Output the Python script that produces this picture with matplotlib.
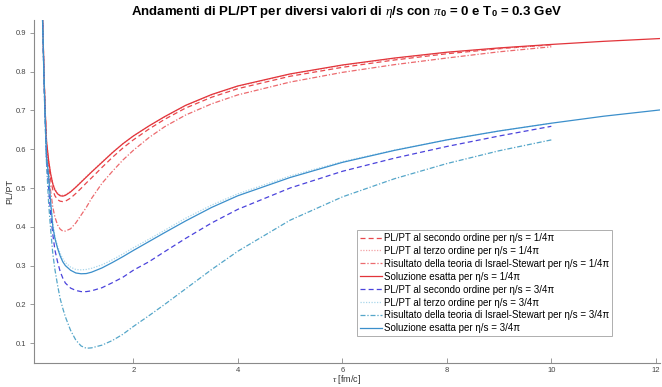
import matplotlib
matplotlib.use("Agg")
import matplotlib.pyplot as plt

plt.rcParams['font.family'] = ['Liberation Sans', 'DejaVu Sans']
plt.rcParams['mathtext.fontset'] = 'custom'
plt.rcParams['mathtext.it'] = 'Liberation Serif:italic'
plt.rcParams['mathtext.rm'] = 'Liberation Sans'
plt.rcParams['mathtext.bf'] = 'Liberation Sans:bold'

# proper time grid [fm/c]
tau_approx = [0.25, 0.27, 0.29, 0.31, 0.34, 0.38, 0.42, 0.46, 0.5, 0.55, 0.6, 0.65,
              0.7, 0.8, 0.9, 1.0, 1.1, 1.2, 1.4, 1.6, 1.8, 2.0, 2.3, 2.6, 3.0,
              3.5, 4.0, 5.0, 6.0, 7.0, 8.0, 9.0, 10.0]
tau_exact = tau_approx + [11.0, 12.2]

# eta/s = 1/4pi
pl_pt_2nd_a = [1.0, 0.91, 0.80, 0.71, 0.61, 0.56, 0.52, 0.495, 0.48, 0.47, 0.466, 0.465,
               0.466, 0.474, 0.486, 0.499, 0.513, 0.526, 0.553, 0.579, 0.603, 0.624, 0.652, 0.677, 0.706,
               0.734, 0.756, 0.788, 0.811, 0.83, 0.846, 0.859, 0.869]
pl_pt_3rd_a = [1.0, 0.91, 0.80, 0.71, 0.62, 0.572, 0.537, 0.512, 0.497, 0.487, 0.482, 0.481,
               0.483, 0.491, 0.503, 0.516, 0.529, 0.542, 0.567, 0.592, 0.614, 0.634, 0.66, 0.683, 0.712,
               0.74, 0.762, 0.793, 0.816, 0.834, 0.849, 0.86, 0.869]
pl_pt_is_a = [1.0, 0.91, 0.80, 0.71, 0.60, 0.54, 0.49, 0.45, 0.425, 0.405, 0.394, 0.389,
              0.389, 0.395, 0.41, 0.43, 0.45, 0.473, 0.512, 0.543, 0.572, 0.597, 0.63, 0.658, 0.688,
              0.717, 0.74, 0.773, 0.798, 0.818, 0.835, 0.851, 0.864]
pl_pt_exact_a = [1.0, 0.91, 0.80, 0.71, 0.62, 0.57, 0.535, 0.51, 0.495, 0.485, 0.48, 0.479,
                 0.481, 0.49, 0.502, 0.515, 0.528, 0.541, 0.566, 0.591, 0.614, 0.634, 0.66, 0.684, 0.713,
                 0.741, 0.763, 0.794, 0.817, 0.835, 0.85, 0.861, 0.870, 0.878, 0.886]

# eta/s = 3/4pi
pl_pt_2nd_b = [1.0, 0.90, 0.78, 0.69, 0.57, 0.50, 0.43, 0.38, 0.34, 0.31, 0.285, 0.268,
               0.255, 0.242, 0.236, 0.233, 0.233, 0.235, 0.243, 0.256, 0.27, 0.288, 0.31, 0.336, 0.37,
               0.41, 0.445, 0.50, 0.543, 0.577, 0.607, 0.634, 0.659]
pl_pt_3rd_b = [1.0, 0.90, 0.79, 0.70, 0.59, 0.53, 0.465, 0.41, 0.375, 0.35, 0.332, 0.318,
               0.308, 0.296, 0.29, 0.289, 0.29, 0.293, 0.302, 0.315, 0.33, 0.346, 0.368, 0.391, 0.422,
               0.456, 0.485, 0.531, 0.568, 0.598, 0.624, 0.647, 0.667]
pl_pt_is_b = [1.0, 0.90, 0.78, 0.68, 0.56, 0.46, 0.39, 0.33, 0.29, 0.25, 0.215, 0.19,
              0.168, 0.133, 0.108, 0.093, 0.087, 0.088, 0.095, 0.107, 0.123, 0.143, 0.171, 0.2, 0.24,
              0.29, 0.337, 0.417, 0.477, 0.524, 0.563, 0.596, 0.624]
pl_pt_exact_b = [1.0, 0.90, 0.79, 0.70, 0.58, 0.53, 0.46, 0.40, 0.37, 0.345, 0.325, 0.31,
                 0.30, 0.288, 0.281, 0.279, 0.2795, 0.283, 0.294, 0.308, 0.323, 0.339, 0.362, 0.385, 0.415,
                 0.45, 0.48, 0.527, 0.566, 0.597, 0.624, 0.647, 0.667, 0.685, 0.703]

labels = [
    "PL/PT al secondo ordine per η/s = 1/4π",
    "PL/PT al terzo ordine per η/s = 1/4π",
    "Risultato della teoria di Israel-Stewart per η/s = 1/4π",
    "Soluzione esatta per η/s = 1/4π",
    "PL/PT al secondo ordine per η/s = 3/4π",
    "PL/PT al terzo ordine per η/s = 3/4π",
    "Risultato della teoria di Israel-Stewart per η/s = 3/4π",
    "Soluzione esatta per η/s = 3/4π",
]

W, H = 662, 387
fig = plt.figure(figsize=(W / 100, H / 100), dpi=100)
ax = fig.add_axes([33.5 / W, (H - 363) / H, (660 - 33.5) / W, (363 - 20) / H])

lw = 0.9
dash = (0, (4, 2.5))
dot = (0, (1, 1.2))
dashdot = (0, (4, 1.5, 1, 1.5))
ax.plot(tau_approx, pl_pt_2nd_a, color='#e8474c', ls=dash, lw=lw, label=labels[0])
ax.plot(tau_approx, pl_pt_3rd_a, color='#f3a3a6', ls=dot, lw=lw, label=labels[1])
ax.plot(tau_approx, pl_pt_is_a, color='#ec6a6e', ls=dashdot, lw=lw, label=labels[2])
ax.plot(tau_exact, pl_pt_exact_a, color='#e2343a', ls='-', lw=lw, label=labels[3])
ax.plot(tau_approx, pl_pt_2nd_b, color='#4b43dc', ls=dash, lw=lw, label=labels[4])
ax.plot(tau_approx, pl_pt_3rd_b, color='#a9d6ea', ls=dot, lw=lw, label=labels[5])
ax.plot(tau_approx, pl_pt_is_b, color='#55a6c9', ls=dashdot, lw=lw, label=labels[6])
ax.plot(tau_exact, pl_pt_exact_b, color='#3b8fcb', ls='-', lw=lw, label=labels[7])

ax.set_xlim(0.09, 12.08)
ax.set_ylim(0.049, 0.933)
ax.set_xticks([2, 4, 6, 8, 10, 12])
ax.set_yticks([0.1, 0.2, 0.3, 0.4, 0.5, 0.6, 0.7, 0.8, 0.9])
ax.set_yticklabels(['0.1', '0.2', '0.3', '0.4', '0.5', '0.6', '0.7', '0.8', '0.9'])

for side in ('top', 'right'):
    ax.spines[side].set_visible(False)
for side in ('left', 'bottom'):
    ax.spines[side].set_color('#8a8a8a')
    ax.spines[side].set_linewidth(0.8)
ax.tick_params(axis='x', direction='in', length=3.5, width=0.6, color='#8a8a8a',
               labelsize=5.5, labelcolor='#444444', pad=3)
ax.tick_params(axis='y', direction='out', length=3, width=0.6, color='#8a8a8a',
               labelsize=5.5, labelcolor='#444444', pad=2)

ax.set_xlabel(r"$\tau$ [fm/c]", fontsize=6.5, color='#333333', labelpad=-0.5)
ax.set_ylabel("PL/PT", fontsize=6.5, color='#333333', labelpad=1)
ax.set_title(r"Andamenti di PL/PT per diversi valori di $\eta$/s con $\pi_\mathbf{0}$ = 0 e T$_\mathbf{0}$ = 0.3 GeV",
             fontsize=9.5, fontweight='bold', pad=2.5)

leg = ax.legend(loc='upper left',
                bbox_to_anchor=((357 - 33.5) / (660 - 33.5), (363 - 230) / (363 - 20)),
                fontsize=7.0, frameon=True, fancybox=False, borderpad=0.3, labelspacing=0.3,
                handlelength=2.3, handletextpad=0.2, borderaxespad=0)
leg.get_frame().set_edgecolor('#9a9a9a')
leg.get_frame().set_linewidth(0.7)

fig.savefig("out.png", dpi=100)
